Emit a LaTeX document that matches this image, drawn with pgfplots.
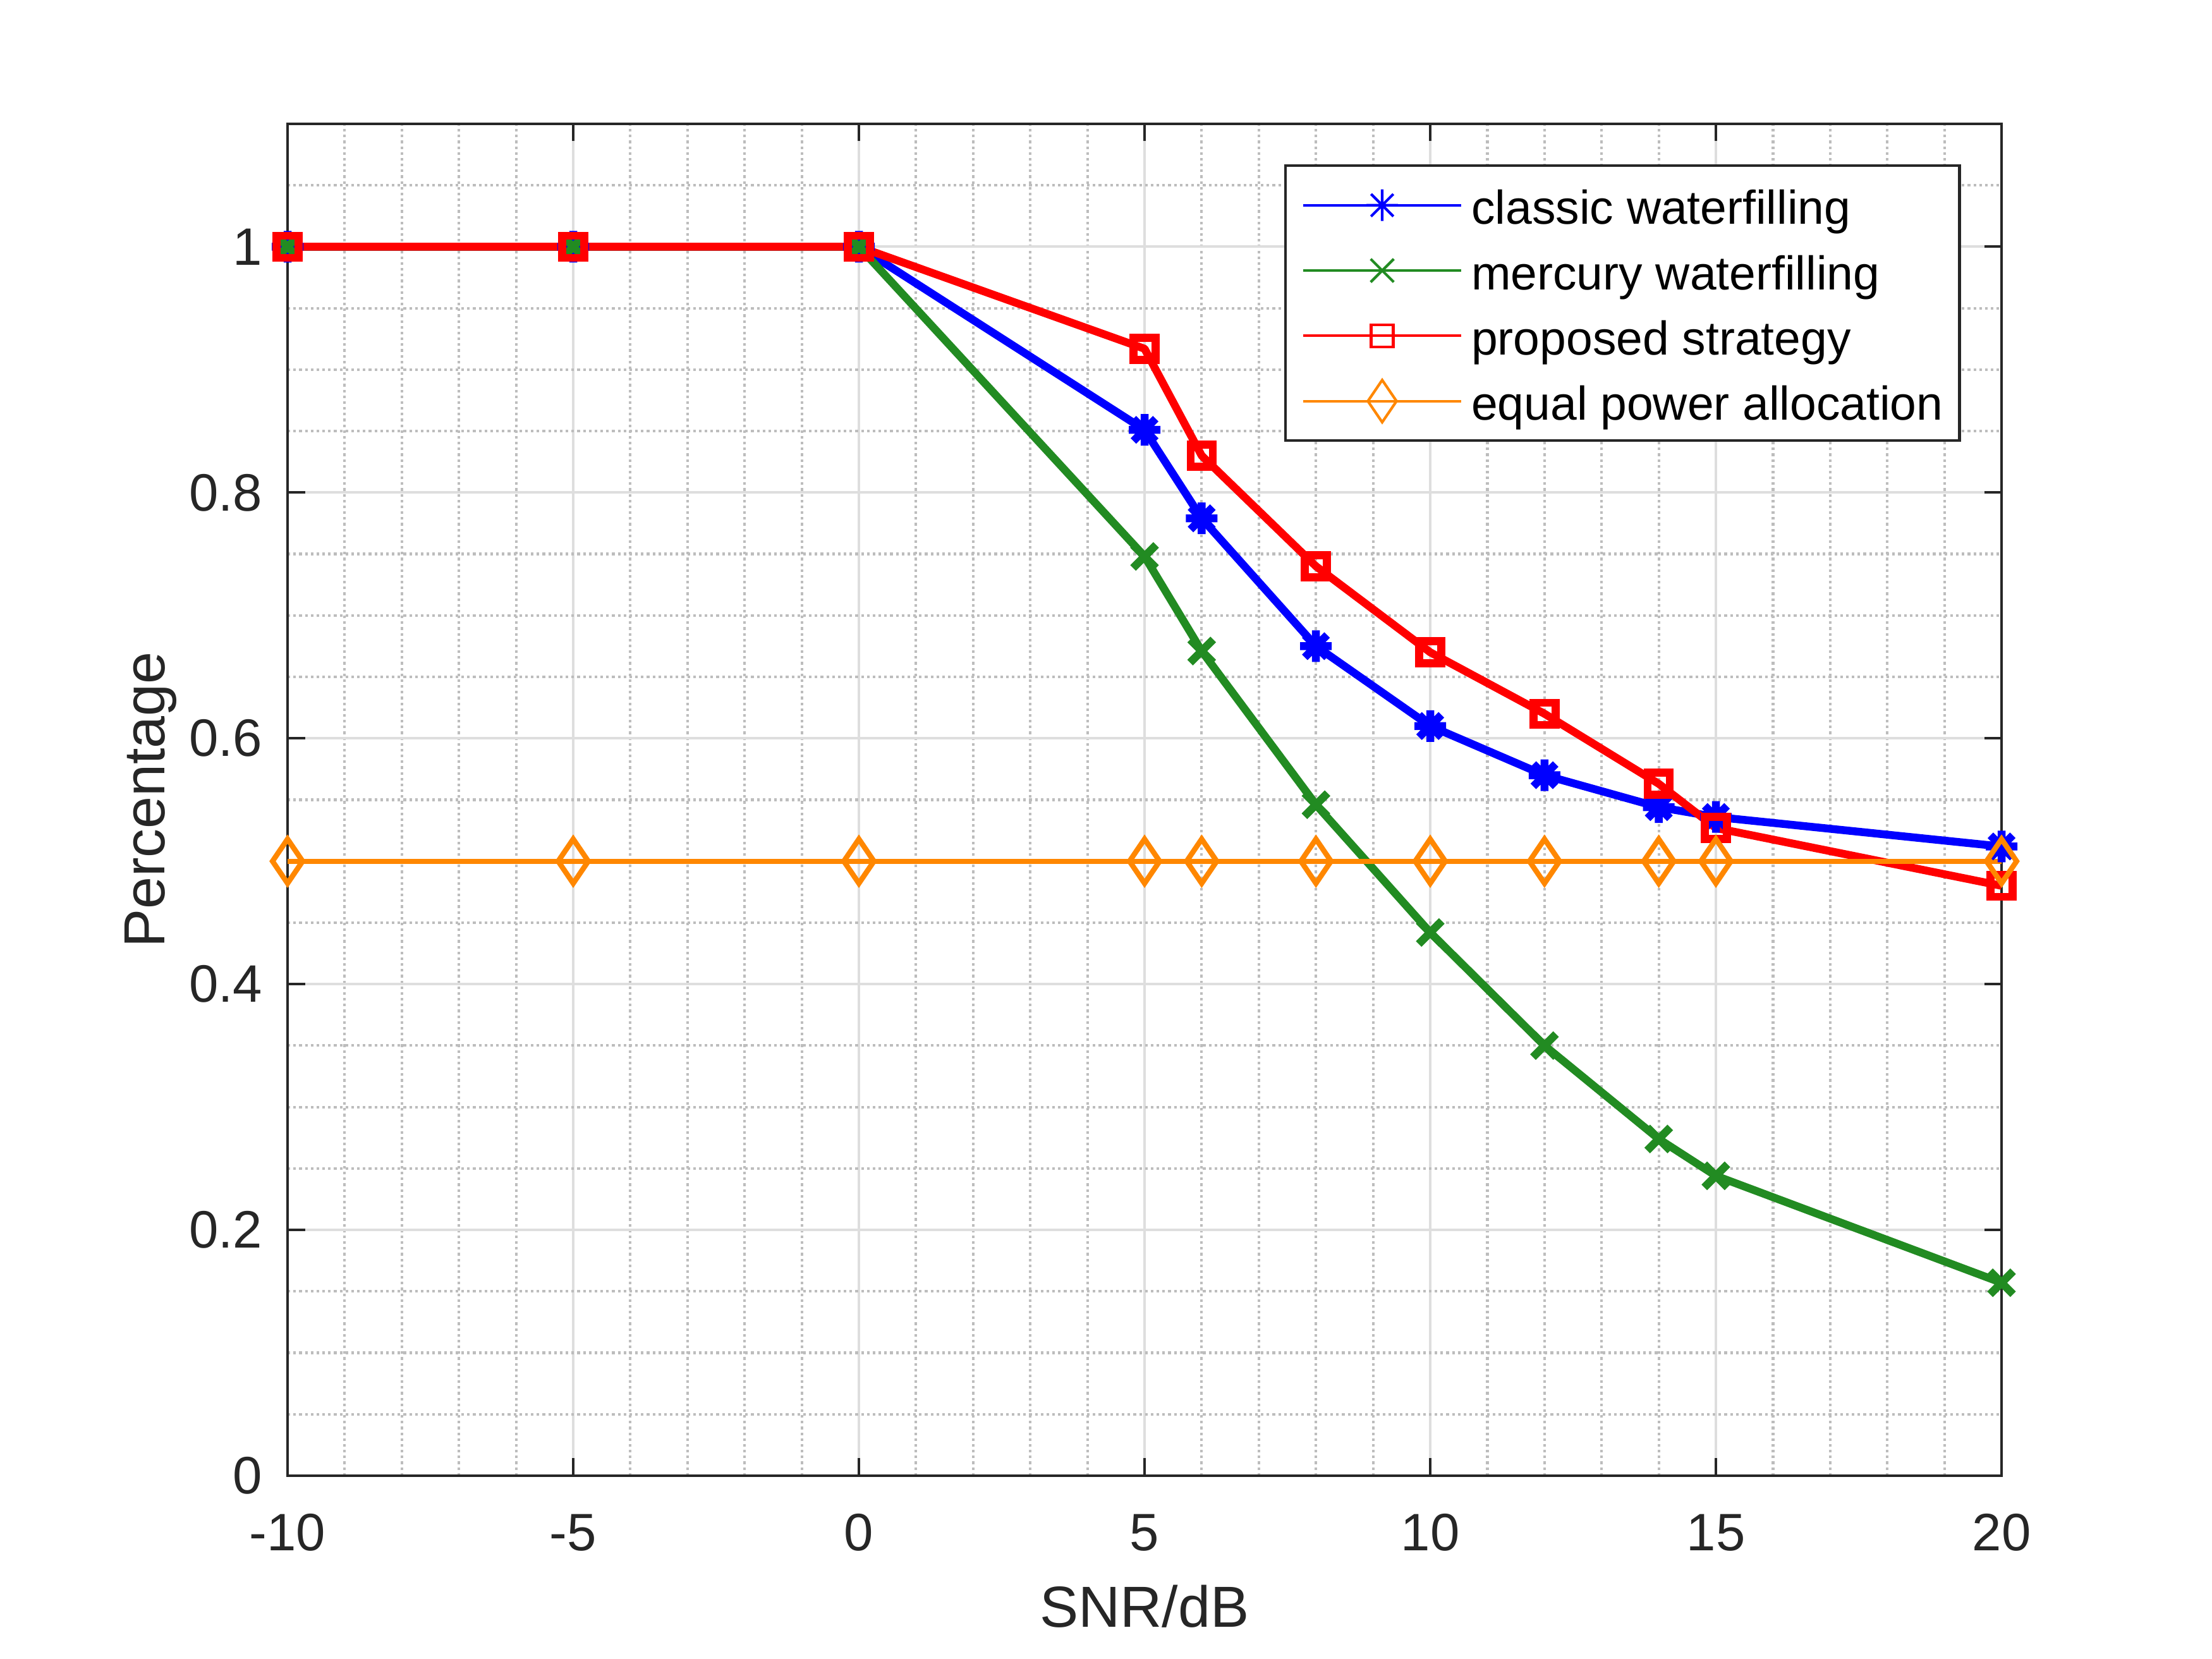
\documentclass[border=0pt]{standalone}
\usepackage{fontspec}
\setmainfont{Liberation Sans}
\usepackage{pgfplots}
\pgfplotsset{compat=1.18}
\definecolor{mgray}{rgb}{0.15,0.15,0.15}
\definecolor{gridmajor}{rgb}{0.87,0.87,0.87}
\definecolor{gridminor}{rgb}{0.74,0.74,0.74}
\definecolor{mgreen}{rgb}{0.133,0.545,0.133}
\definecolor{morange}{rgb}{1,0.53,0}
\pgfdeclareplotmark{star8}{%
  \pgfpathmoveto{\pgfqpoint{0pt}{\pgfplotmarksize}}\pgfpathlineto{\pgfqpoint{0pt}{-\pgfplotmarksize}}%
  \pgfpathmoveto{\pgfqpoint{\pgfplotmarksize}{0pt}}\pgfpathlineto{\pgfqpoint{-\pgfplotmarksize}{0pt}}%
  \pgfpathmoveto{\pgfqpoint{0.707\pgfplotmarksize}{0.707\pgfplotmarksize}}\pgfpathlineto{\pgfqpoint{-0.707\pgfplotmarksize}{-0.707\pgfplotmarksize}}%
  \pgfpathmoveto{\pgfqpoint{-0.707\pgfplotmarksize}{0.707\pgfplotmarksize}}\pgfpathlineto{\pgfqpoint{0.707\pgfplotmarksize}{-0.707\pgfplotmarksize}}%
  \pgfusepathqstroke}
\pgfdeclareplotmark{mdiamond}{%
  \pgfpathmoveto{\pgfqpoint{0pt}{\pgfplotmarksize}}%
  \pgfpathlineto{\pgfqpoint{0.68\pgfplotmarksize}{0pt}}%
  \pgfpathlineto{\pgfqpoint{0pt}{-\pgfplotmarksize}}%
  \pgfpathlineto{\pgfqpoint{-0.68\pgfplotmarksize}{0pt}}%
  \pgfpathclose\pgfusepathqstroke}
\pgfplotstableread{
x     classic mercury proposed equal
-10   1.000   1.000   1.000    0.5
-5    1.000   1.000   1.000    0.5
0     1.000   1.000   1.000    0.5
5     0.851   0.748   0.917    0.5
6     0.779   0.671   0.830    0.5
8     0.675   0.546   0.740    0.5
10    0.610   0.442   0.670    0.5
12    0.570   0.350   0.620    0.5
14    0.544   0.274   0.563    0.5
15    0.536   0.244   0.527    0.5
20    0.512   0.157   0.480    0.5
}\datatable
\begin{document}
\begin{tikzpicture}
\useasboundingbox (0,0) rectangle (420pt,315pt);
\begin{axis}[
  at={(54.6pt,34.8pt)}, anchor=south west,
  scale only axis, width=325.44pt, height=256.68pt,
  xmin=-10, xmax=20, ymin=0, ymax=1.1,
  xtick={-10,-5,0,5,10,15,20},
  ytick={0,0.2,0.4,0.6,0.8,1},
  minor xtick={-9,-8,-7,-6,-4,-3,-2,-1,1,2,3,4,6,7,8,9,11,12,13,14,16,17,18,19},
  minor ytick={0.05,0.1,0.15,0.25,0.3,0.35,0.45,0.5,0.55,0.65,0.7,0.75,0.85,0.9,0.95,1.05},
  grid=both,
  major grid style={line width=0.5pt, draw=gridmajor},
  minor grid style={line width=0.5pt, draw=gridminor, dash pattern=on 0.5pt off 0.6pt},
  tick align=inside,
  major tick length=3.3pt, minor tick length=0pt,
  axis line style={line width=0.5pt, draw=mgray},
  every tick/.style={line width=0.5pt, draw=mgray},
  /pgf/number format/assume math mode=true,
  tick label style={font=\fontsize{10}{12}\selectfont, text=mgray},
  xticklabel style={anchor=base, yshift=-14.2pt, inner sep=0pt},
  yticklabel style={anchor=east, xshift=-4.56pt, inner sep=0pt},
  xlabel={SNR/dB},
  xlabel style={at={(axis description cs:0.5,-0.1122)}, anchor=base, font=\fontsize{11}{13}\selectfont, text=mgray, inner sep=0pt},
  ylabel={Percentage},
  ylabel style={at={(axis description cs:-0.0719,0.5)}, anchor=base, font=\fontsize{11}{13}\selectfont, text=mgray, inner sep=0pt},
  clip=false,
  legend cell align=left,
  legend image code/.code={\draw[mark repeat=2,mark phase=2] plot coordinates {(0pt,0pt) (15pt,0pt) (30pt,0pt)};},
  legend style={
    at={(axis description cs:0.5815,0.970)}, anchor=north west,
    draw=mgray, line width=0.5pt, fill=white,
    inner xsep=3.1pt, inner ysep=1.3pt,
    row sep=0pt,
    nodes={inner sep=0pt, text height=9.8pt, text depth=2.6pt, text=black},
    font=\fontsize{9}{11}\selectfont,
    /tikz/every odd column/.append style={column sep=1.7pt},
  },
]
\addplot[forget plot, blue, line width=1.5pt, line join=round, mark=star8, mark size=3pt] table[x=x, y=classic] {\datatable};
\addplot[forget plot, mgreen, line width=1.5pt, line join=round, mark=x, mark size=3.1pt] table[x=x, y=mercury] {\datatable};
\addplot[forget plot, red, line width=1.5pt, line join=round, mark=square, mark size=2.1pt, mark options={line join=miter}] table[x=x, y=proposed] {\datatable};
\addplot[forget plot, morange, line width=1pt, line join=round, mark=mdiamond, mark size=4.2pt, mark options={line join=miter}] table[x=x, y=equal] {\datatable};

\addlegendimage{blue, line width=0.5pt, mark=star8, mark size=3pt}
\addlegendentry{classic waterfilling}
\addlegendimage{mgreen, line width=0.5pt, mark=x, mark size=3.1pt}
\addlegendentry{mercury waterfilling}
\addlegendimage{red, line width=0.5pt, mark=square, mark size=2.1pt}
\addlegendentry{proposed strategy}
\addlegendimage{morange, line width=0.5pt, mark=mdiamond, mark size=4.0pt}
\addlegendentry{equal power allocation}
\end{axis}
\end{tikzpicture}
\end{document}
